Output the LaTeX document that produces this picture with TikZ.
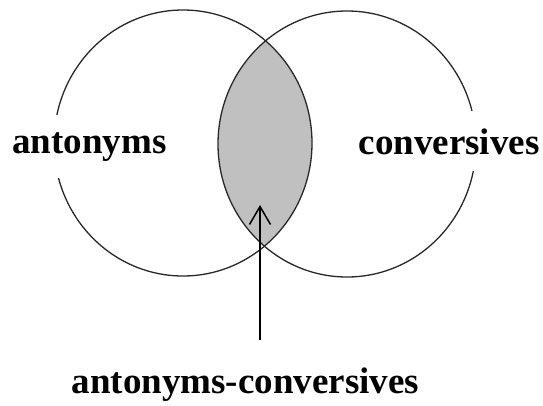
\documentclass[tikz,border=0pt]{standalone}
\usepackage{fontspec}
\setmainfont{Liberation Serif}
\usepackage{tikz}
\usetikzlibrary{arrows.meta, shapes.geometric}
\definecolor{lensgray}{RGB}{192,192,192}
\definecolor{rimgray}{RGB}{40,40,40}

\begin{document}
\begin{tikzpicture}[x=1pt,y=-1pt,
  setcircle/.style={ellipse, draw=rimgray, line width=1.3pt, minimum width=258pt, minimum height=266pt, inner sep=0pt},
  setlabel/.style={font=\bfseries\fontsize{37}{40}\selectfont, anchor=base, inner sep=0pt},
  onset/.style={setlabel, fill=white, inner xsep=4pt, inner ysep=17pt},
  pointer/.style={line width=1.5pt, -{Straight Barb[length=18pt,width=21pt,line width=1.5pt]}}]
\useasboundingbox (0,0) rectangle (543,405);
% shaded overlap
\begin{scope}
\clip (183,143) ellipse [x radius=129pt, y radius=133pt];
\fill[lensgray] (347,144) ellipse [x radius=129pt, y radius=133pt];
\end{scope}
\node[setcircle] (ant) at (183,143) {};
\node[setcircle] (conv) at (347,144) {};
\node[onset] (antlbl) at (89.5,153) {antonyms};
\node[onset] (convlbl) at (449,154) {conversives};
\node[setlabel] (both) at (245.5,393) {antonyms-conversives};
\coordinate (tip) at (260,205);
\draw[pointer, shorten <=27pt] (both.north -| tip) -- (tip);
\end{tikzpicture}
\end{document}
